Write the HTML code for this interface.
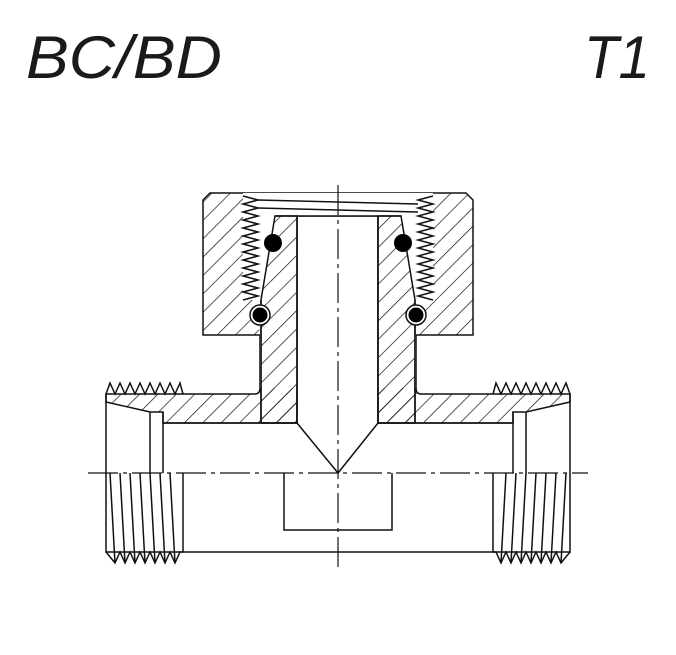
<!DOCTYPE html>
<html><head><meta charset="utf-8"><style>
html,body{margin:0;padding:0;background:#fff;width:676px;height:655px;overflow:hidden}
svg{display:block}
</style></head><body>
<svg width="676" height="655" viewBox="0 0 676 655" xmlns="http://www.w3.org/2000/svg">
<defs>
<pattern id="h" patternUnits="userSpaceOnUse" width="13" height="13" patternTransform="rotate(45)">
<line x1="0" y1="0" x2="0" y2="13" stroke="#111" stroke-width="1.4"/>
</pattern>
</defs>
<text x="26" y="78" font-family="Liberation Sans, sans-serif" font-style="italic" font-size="60" fill="#1a1a1a" textLength="196" lengthAdjust="spacingAndGlyphs">BC/BD</text>
<text x="584" y="78" font-family="Liberation Sans, sans-serif" font-style="italic" font-size="60" fill="#1a1a1a" textLength="66" lengthAdjust="spacingAndGlyphs">T1</text>

<g stroke="#111" stroke-width="1.5" fill="none">
<!-- hatched body -->
<path d="M106 394 L183 394 L255 394 Q260 394 260 388 L260 335 L203 335 L203 200 L210 193 L466 193 L473 200 L473 335 L416 335 L416 388 Q416 394 421 394 L570 394 L570 402 L526 412 L513 412 L513 423 L378 423 L378 216 L297 216 L297 423 L163 423 L163 412 L150 412 L106 402 Z" fill="url(#h)"/>
<!-- nut inner cavity white -->
<path d="M243 193 L433 193 L433 300 L420 300 L416 335 L416 388 L378 388 L378 216 L297 216 L297 388 L260 388 L260 335 L256 300 L243 300 Z" fill="#fff" stroke="none"/>
<!-- stem hatch -->
<path d="M261 300 L275 216 L297 216 L297 423 L261 423 Z" fill="url(#h)"/>
<path d="M415 300 L401 216 L378 216 L378 423 L415 423 Z" fill="url(#h)"/>
<!-- nut threads -->
<path d="M243 196 L258 200 L243 204 L258 208 L243 212 L258 216 L243 220 L258 224 L243 228 L258 232 L243 236 L258 240 L243 244 L258 248 L243 252 L258 256 L243 260 L258 264 L243 268 L258 272 L243 276 L258 280 L243 284 L258 288 L243 292 L258 296 L243 300"/>
<path d="M433 196 L418 200 L433 204 L418 208 L433 212 L418 216 L433 220 L418 224 L433 228 L418 232 L433 236 L418 240 L433 244 L418 248 L433 252 L418 256 L433 260 L418 264 L433 268 L418 272 L433 276 L418 280 L433 284 L418 288 L433 292 L418 296 L433 300"/>
<line x1="258" y1="200" x2="418" y2="204"/><line x1="258" y1="208" x2="418" y2="212"/>
<line x1="275" y1="216" x2="401" y2="216"/>
<path d="M261 300 L261 423"/><path d="M415 300 L415 423"/>
<path d="M297 216 L297 423 M378 216 L378 423"/>
<!-- outer body -->
<path d="M106 394 L106 552 L183 552 L493 552 L570 552 L570 394"/>
<path d="M150 412 L150 473 M163 412 L163 473 M526 412 L526 473 M513 412 L513 473"/>
<path d="M163 423 L297 423 L338 473 L378 423 L513 423"/>
<path d="M106 394 L110 383 L115 394 L120 383 L125 394 L130 383 L135 394 L140 383 L145 394 L150 383 L155 394 L160 383 L165 394 L170 383 L175 394 L180 383 L183 394"/>
<path d="M570 394 L566 383 L561 394 L556 383 L551 394 L546 383 L541 394 L536 383 L531 394 L526 383 L521 394 L516 383 L511 394 L506 383 L501 394 L496 383 L493 394"/>
<path d="M106 552 L115 563 L120 552 L125 563 L130 552 L135 563 L140 552 L145 563 L150 552 L155 563 L160 552 L165 563 L170 552 L175 563 L180 552 L183 552 L183 473"/>
<path d="M570 552 L561 563 L556 552 L551 563 L546 552 L541 563 L536 552 L531 563 L526 552 L521 563 L516 552 L511 563 L506 552 L501 563 L496 552 L493 552 L493 473"/>
<path d="M110 473 L115 563 M120 473 L125 563 M130 473 L135 563 M140 473 L145 563 M150 473 L155 563 M160 473 L165 563 M170 473 L175 563"/>
<path d="M566 473 L561 563 M556 473 L551 563 M546 473 L541 563 M536 473 L531 563 M526 473 L521 563 M516 473 L511 563 M506 473 L501 563"/>
<path d="M284 473 L284 530 L392 530 L392 473"/>
</g>
<!-- o-rings -->
<circle cx="260" cy="315" r="10" fill="#fff" stroke="#111" stroke-width="1.5"/>
<circle cx="260" cy="315" r="7.5" fill="#000"/>
<circle cx="416" cy="315" r="10" fill="#fff" stroke="#111" stroke-width="1.5"/>
<circle cx="416" cy="315" r="7.5" fill="#000"/>
<circle cx="273" cy="243" r="9" fill="#000"/>
<circle cx="403" cy="243" r="9" fill="#000"/>
<!-- center lines -->
<line x1="338" y1="185" x2="338" y2="570" stroke="#111" stroke-width="1.2" stroke-dasharray="30,5,4,5"/>
<line x1="88" y1="473" x2="588" y2="473" stroke="#111" stroke-width="1.2" stroke-dasharray="30,5,4,5"/>
</svg>
</body></html>
